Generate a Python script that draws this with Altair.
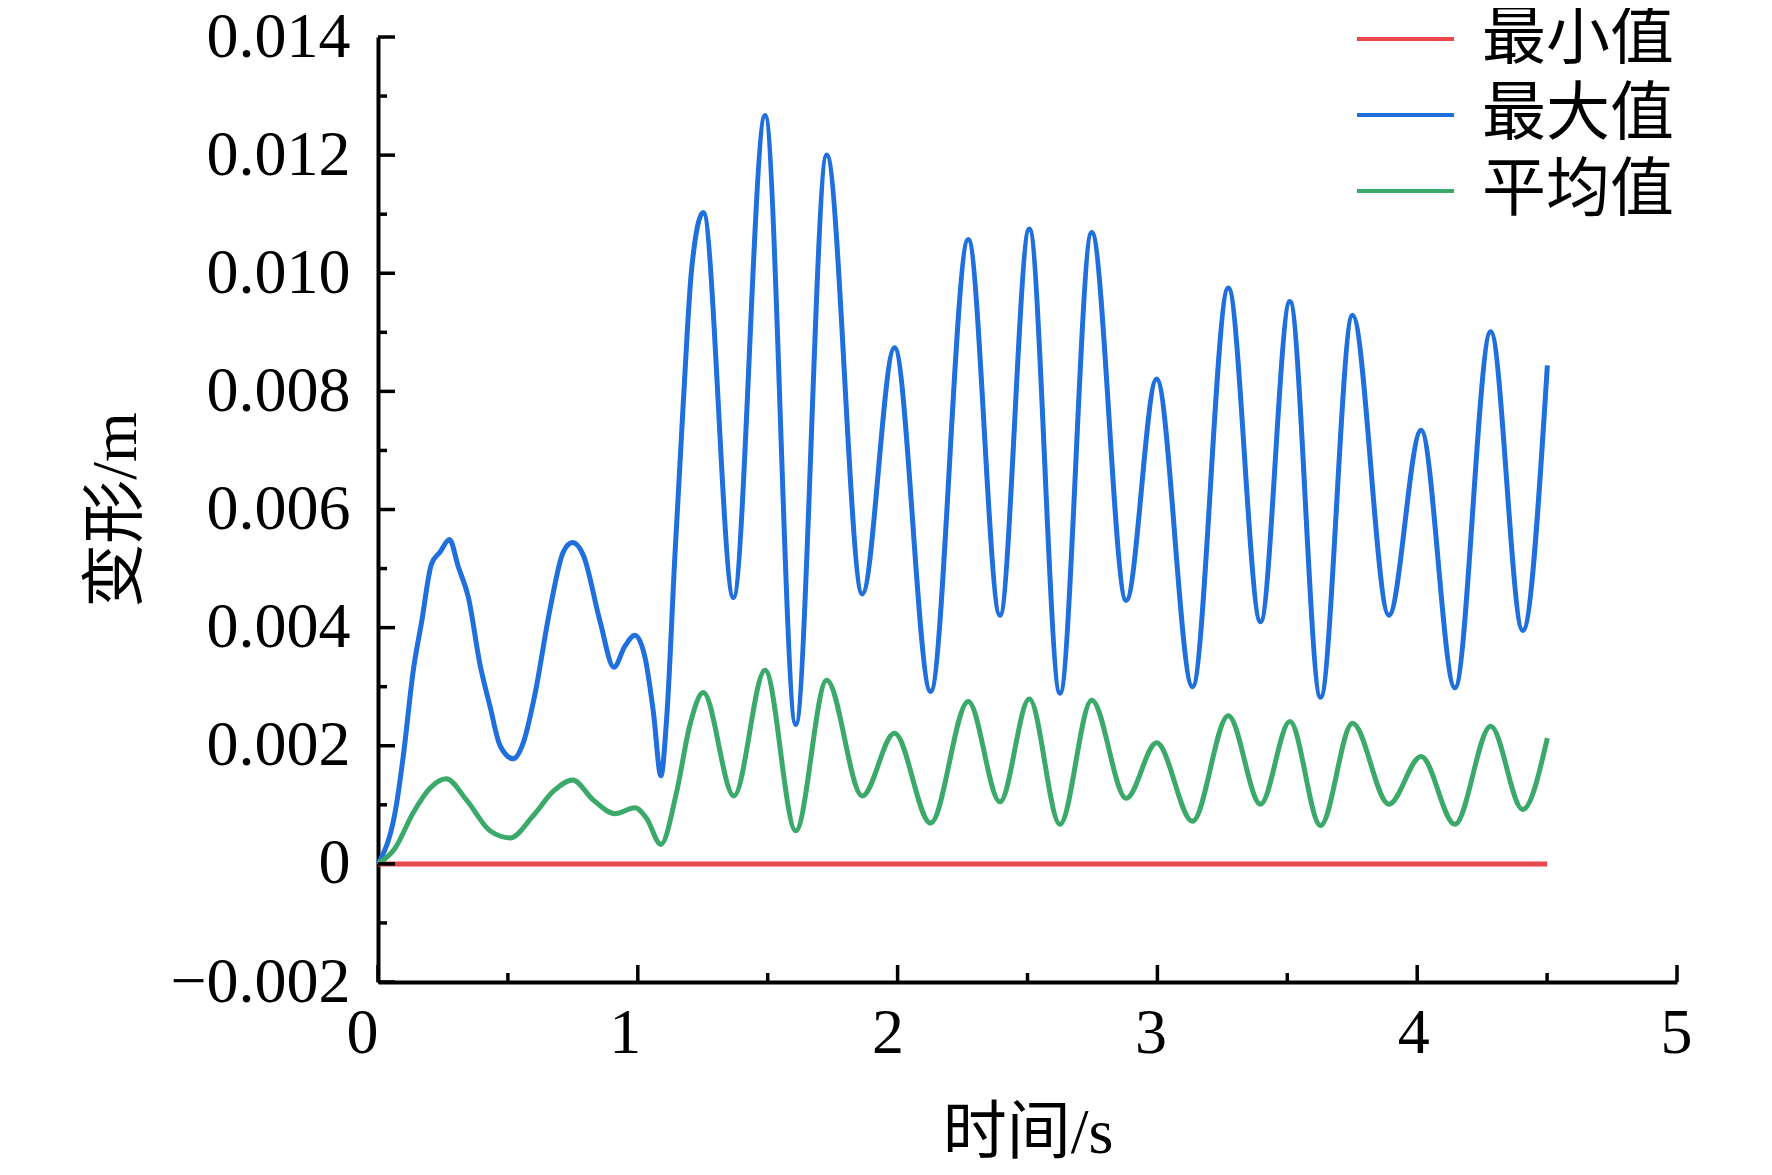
import altair as alt
import pandas as pd

# ---------------- data ----------------
series_names = ["最小值", "最大值", "平均值"]
series_colors = ["#e8474c", "#1f6fdc", "#3aa96a"]

t_min = [0.0, 4.5]
v_min = [0.0, 0.0]

t_max = [0.0, 0.072, 0.098, 0.136, 0.168, 0.206, 0.239, 0.275, 0.309, 0.348,
         0.392, 0.431, 0.470, 0.521, 0.559, 0.604, 0.662, 0.713, 0.749, 0.790,
         0.855, 0.908, 0.951, 0.989, 1.028, 1.060, 1.089, 1.111, 1.143, 1.175,
         1.207, 1.252, 1.368, 1.490, 1.608, 1.727, 1.864, 1.988, 2.127, 2.272,
         2.394, 2.507, 2.625, 2.747, 2.880, 2.997, 3.135, 3.273, 3.397, 3.510,
         3.628, 3.751, 3.891, 4.015, 4.145, 4.283, 4.406, 4.501]
v_max = [0.0, 0.00103, 0.00185, 0.00328, 0.00410, 0.00508, 0.00528, 0.00549, 0.00503, 0.00451,
         0.00339, 0.00267, 0.00200, 0.00178, 0.00205, 0.00287, 0.00431, 0.00528, 0.00544, 0.00523,
         0.00410, 0.00333, 0.00369, 0.00387, 0.00349, 0.00257, 0.00149, 0.00246, 0.00523, 0.00780,
         0.01006, 0.01103, 0.00451, 0.01267, 0.00236, 0.01200, 0.00457, 0.00874, 0.00292, 0.01057,
         0.00421, 0.01075, 0.00289, 0.01069, 0.00446, 0.00821, 0.00300, 0.00975, 0.00410, 0.00952,
         0.00282, 0.00929, 0.00421, 0.00734, 0.00298, 0.00901, 0.00395, 0.00844]

t_avg = [0.0, 0.065, 0.136, 0.200, 0.262, 0.341, 0.431, 0.508, 0.598, 0.675,
         0.749, 0.829, 0.912, 0.989, 1.034, 1.089, 1.150, 1.201, 1.252, 1.370,
         1.490, 1.608, 1.727, 1.864, 1.988, 2.127, 2.272, 2.394, 2.507, 2.625,
         2.747, 2.880, 2.997, 3.135, 3.273, 3.397, 3.510, 3.628, 3.751, 3.891,
         4.015, 4.145, 4.283, 4.406, 4.501]
v_avg = [0.0, 0.00026, 0.00087, 0.00128, 0.00144, 0.00108, 0.00056, 0.00044, 0.00082, 0.00123,
         0.00142, 0.00108, 0.00085, 0.00095, 0.00077, 0.00033, 0.00123, 0.00236, 0.00290, 0.00115,
         0.00328, 0.00056, 0.00311, 0.00115, 0.00221, 0.00069, 0.00275, 0.00105, 0.00279, 0.00067,
         0.00277, 0.00111, 0.00205, 0.00072, 0.00251, 0.00101, 0.00241, 0.00065, 0.00238, 0.00101,
         0.00182, 0.00067, 0.00233, 0.00092, 0.00213]

x_major = [0, 1, 2, 3, 4, 5]
x_minor = [0.5, 1.5, 2.5, 3.5, 4.5]
y_major = [-0.002, 0.0, 0.002, 0.004, 0.006, 0.008, 0.010, 0.012, 0.014]
y_minor = [-0.001, 0.001, 0.003, 0.005, 0.007, 0.009, 0.011, 0.013]

# ---------------- layout / style ----------------
W, H = 1299, 945
SERIF = "Liberation Serif, Noto Sans CJK SC"
MAJ, MIN = 17, 9

rows = []
for name, ts, vs in [(series_names[0], t_min, v_min),
                     (series_names[1], t_max, v_max),
                     (series_names[2], t_avg, v_avg)]:
    for t, v in zip(ts, vs):
        rows.append({"series": name, "t": t, "v": v})
df = pd.DataFrame(rows)

xscale = alt.Scale(domain=[0, 5], nice=False, zero=False)
yscale = alt.Scale(domain=[-0.002, 0.014], nice=False, zero=False)

xaxis = alt.Axis(
    values=x_major, format="d", ticks=False, grid=False, labelFlush=False,
    labelOffset=alt.ExprRef("-16 + 3 * datum.value"),
    domainColor="black", domainWidth=4,
    labelFont=SERIF, labelFontSize=64, labelColor="black", labelPadding=19,
    title="时间/s", titleFont=SERIF, titleFontSize=64, titleFontWeight="normal",
    titleColor="black", titlePadding=36)
yaxis = alt.Axis(
    values=y_major, labelExpr="datum.value == 0 ? '0' : format(datum.value, '.3f')",
    ticks=False, grid=False, labelFlush=False, labelLimit=400,
    domainColor="black", domainWidth=4,
    labelFont=SERIF, labelFontSize=64, labelColor="black", labelPadding=28,
    title="变形/m", titleFont=SERIF, titleFontSize=64, titleFontWeight="normal",
    titleColor="black", titlePadding=30)

lines = alt.Chart(df).mark_line(interpolate="monotone", strokeWidth=5).encode(
    x=alt.X("t:Q", scale=xscale, axis=xaxis),
    y=alt.Y("v:Q", scale=yscale, axis=yaxis),
    color=alt.Color("series:N", scale=alt.Scale(domain=series_names, range=series_colors),
                    legend=alt.Legend(orient="none", legendX=977, legendY=-36, title=None,
                                      symbolType="stroke", symbolSize=9409, symbolStrokeWidth=4,
                                      labelFont=SERIF, labelFontSize=64, labelColor="black",
                                      labelOffset=26, labelLimit=400, clipHeight=76,
                                      rowPadding=0, padding=0)),
)

def xticks(vals, length):
    d = pd.DataFrame({"t": vals})
    return alt.Chart(d).mark_rule(color="black", strokeWidth=3.5).encode(
        x=alt.X("t:Q", scale=xscale, axis=xaxis), y=alt.value(H), y2=alt.value(H - length))

def yticks(vals, length):
    d = pd.DataFrame({"v": vals})
    return alt.Chart(d).mark_rule(color="black", strokeWidth=3.5).encode(
        y=alt.Y("v:Q", scale=yscale, axis=yaxis), x=alt.value(0), x2=alt.value(length))

chart = alt.layer(
    lines,
    xticks(x_major, MAJ), xticks(x_minor, MIN),
    yticks(y_major, MAJ), yticks(y_minor, MIN),
).properties(
    width=W, height=H,
    autosize=alt.AutoSizeParams(type="none"),
    padding={"left": 370, "top": 29, "right": 80, "bottom": 185},
    background="white",
).configure_view(stroke=None)

chart.save("out.html", embed_options={"renderer": "svg", "actions": False})
